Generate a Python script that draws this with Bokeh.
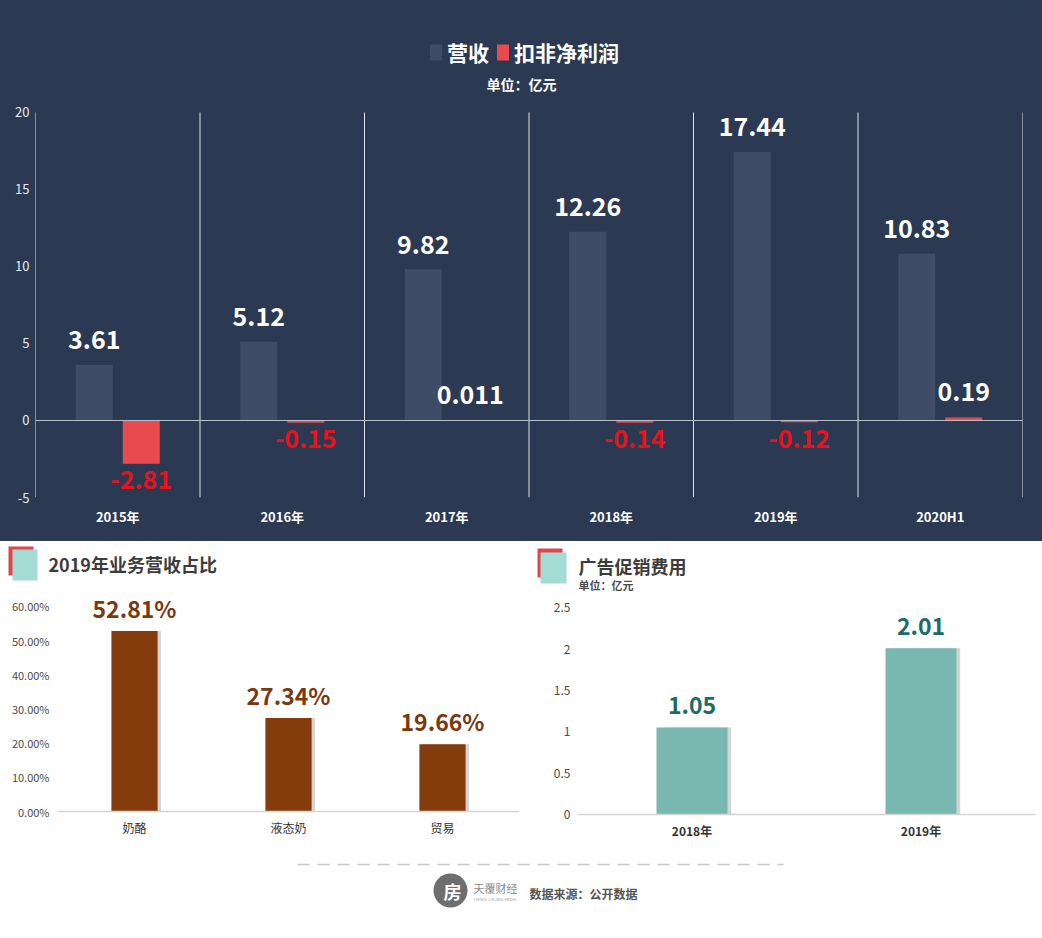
from bokeh.plotting import figure
from bokeh.models import (ColumnDataSource, FactorRange, Range1d, Legend, LegendItem, Label,
                          FixedTicker, Span, NumeralTickFormatter)
from bokeh.transform import dodge
from bokeh.layouts import row
from bokeh.embed import file_html
from bokeh.resources import INLINE
from bokeh.core.properties import value

# ---------------- data ----------------
years = ["2015年", "2016年", "2017年", "2018年", "2019年", "2020H1"]
revenue = [3.61, 5.12, 9.82, 12.26, 17.44, 10.83]
revenue_labels = ["3.61", "5.12", "9.82", "12.26", "17.44", "10.83"]
profit = [-2.81, -0.15, 0.011, -0.14, -0.12, 0.19]
profit_labels = ["-2.81", "-0.15", "0.011", "-0.14", "-0.12", "0.19"]
top_ticks = [-5, 0, 5, 10, 15, 20]
top_tick_labels = ["-5", "0", "5", "10", "15", "20"]

biz = ["奶酪", "液态奶", "贸易"]
biz_share = [0.5281, 0.2734, 0.1966]
biz_labels = ["52.81%", "27.34%", "19.66%"]
biz_ticks = [0, 0.1, 0.2, 0.3, 0.4, 0.5, 0.6]

ad_years = ["2018年", "2019年"]
ad_cost = [1.05, 2.01]
ad_labels = ["1.05", "2.01"]
ad_ticks = [0, 0.5, 1, 1.5, 2, 2.5]
ad_tick_labels = ["0", "0.5", "1", "1.5", "2", "2.5"]

FONT = "Noto Sans CJK SC"
BG = "#2b3a52"
REV_C = "#3f4c66"
PROF_C = "#e84a4f"
NEG_TXT = "#e8121c"
ICON_RED = "#e0474c"
ICON_TEAL = "#a3dcd5"
LINE_C = "#dfe3ea"


def blank(w, h):
    fig = figure(x_range=Range1d(0, w), y_range=Range1d(0, h), width=w, height=h,
                 x_axis_type=None, y_axis_type=None, output_backend="svg", toolbar_location=None,
                 outline_line_color=None, background_fill_color="white", border_fill_color="white",
                 min_border=0, min_border_left=0, min_border_right=0, min_border_top=0, min_border_bottom=0)
    fig.grid.visible = False
    return fig


def style_axis(ax, color, size, bold=False, standoff=6, line=None):
    ax.axis_line_color = line
    ax.major_tick_line_color = None
    ax.minor_tick_line_color = None
    ax.major_tick_out = 0
    ax.major_tick_in = 0
    ax.minor_tick_out = 0
    ax.minor_tick_in = 0
    ax.major_label_text_color = color
    ax.major_label_text_font = FONT
    ax.major_label_text_font_size = size
    ax.major_label_text_font_style = "bold" if bold else "normal"
    ax.major_label_standoff = standoff


# ---------------- top chart ----------------
p = figure(x_range=FactorRange(*years), y_range=Range1d(-5, 27.27), width=1042, height=541,
           output_backend="svg", toolbar_location=None, styles={"background-color": BG},
           background_fill_color=BG, border_fill_color=BG, outline_line_color=None,
           min_border_left=35, min_border_right=20, min_border_top=0, min_border_bottom=44)
p.xgrid.visible = False
p.ygrid.visible = False

src = ColumnDataSource(dict(year=years, rev=revenue, rl=revenue_labels, prof=profit, pl=profit_labels))
first_src = ColumnDataSource(dict(year=years[:1]))
neg_idx = [i for i, v in enumerate(profit) if v < 0]
pos_idx = [i for i, v in enumerate(profit) if v >= 0]
neg_src = ColumnDataSource(dict(year=[years[i] for i in neg_idx], prof=[profit[i] for i in neg_idx],
                                pl=[profit_labels[i] for i in neg_idx]))
pos_src = ColumnDataSource(dict(year=[years[i] for i in pos_idx], prof=[profit[i] for i in pos_idx],
                                pl=[profit_labels[i] for i in pos_idx]))

# category separators and left axis line
p.segment(x0=dodge("year", 0.5, range=p.x_range), y0=top_ticks[0], x1=dodge("year", 0.5, range=p.x_range),
          y1=top_ticks[-1], source=src, line_color=LINE_C, line_width=1)
p.segment(x0=dodge("year", -0.5, range=p.x_range), y0=top_ticks[0], x1=dodge("year", -0.5, range=p.x_range),
          y1=top_ticks[-1], source=first_src, line_color=LINE_C, line_width=1)
p.add_layout(Span(location=0, dimension="width", line_color="#b9c0cc", line_width=1))

r1 = p.vbar(x=dodge("year", -0.143, range=p.x_range), top="rev", bottom=0, width=0.225, source=src,
            fill_color=REV_C, line_color=None)
r2 = p.vbar(x=dodge("year", 0.143, range=p.x_range), top="prof", bottom=0, width=0.225, source=src,
            fill_color=PROF_C, line_color=None)

p.text(x=dodge("year", -0.143, range=p.x_range), y="rev", text="rl", source=src,
       text_align="center", text_baseline="alphabetic", y_offset=-25,
       text_font=value(FONT), text_font_size="25px", text_font_style="bold", text_color="white")
p.text(x=dodge("year", 0.143, range=p.x_range), y="prof", text="pl", source=neg_src,
       text_align="center", text_baseline="alphabetic", y_offset=16,
       text_font=value(FONT), text_font_size="25px", text_font_style="bold", text_color=NEG_TXT)
p.text(x=dodge("year", 0.143, range=p.x_range), y="prof", text="pl", source=pos_src,
       text_align="center", text_baseline="alphabetic", y_offset=-26,
       text_font=value(FONT), text_font_size="25px", text_font_style="bold", text_color="white")

p.yaxis.ticker = FixedTicker(ticks=top_ticks)
p.yaxis.major_label_overrides = dict(zip(top_ticks, top_tick_labels))
style_axis(p.yaxis[0], "#e6e9ef", "13px", standoff=6)
style_axis(p.xaxis[0], "white", "13px", bold=True, standoff=9)

legend = Legend(items=[LegendItem(label="营收", renderers=[r1]), LegendItem(label="扣非净利润", renderers=[r2])],
                orientation="horizontal", location=(393, 430),
                label_text_color="white", label_text_font=FONT, label_text_font_size="21px",
                label_text_font_style="bold", glyph_width=15, glyph_height=20, label_standoff=4,
                spacing=6, padding=0, margin=0, background_fill_alpha=0, border_line_alpha=0)
p.add_layout(legend, "center")
p.add_layout(Label(x=486, y=414, x_units="screen", y_units="screen", text="单位：亿元",
                   text_align="center", text_baseline="middle", text_color="white",
                   text_font=FONT, text_font_size="14px", text_font_style="bold"))

# ---------------- header row of the two lower charts ----------------
h2 = blank(521, 50)
h2.quad(left=[8], right=[33], top=[45], bottom=[16], fill_color=ICON_RED, line_color=None)
h2.quad(left=[12], right=[37], top=[42], bottom=[11], fill_color=ICON_TEAL, line_color=None)
h2.text(x=[48], y=[28], text=["2019年业务营收占比"], text_align="left", text_baseline="middle",
        text_font=value(FONT), text_font_size="18px", text_font_style="bold", text_color="#3c3c3c")
h3 = blank(521, 50)
h3.quad(left=[16], right=[41], top=[43], bottom=[14], fill_color=ICON_RED, line_color=None)
h3.quad(left=[19], right=[45], top=[39], bottom=[8], fill_color=ICON_TEAL, line_color=None)
h3.text(x=[57], y=[26], text=["广告促销费用"], text_align="left", text_baseline="middle",
        text_font=value(FONT), text_font_size="18px", text_font_style="bold", text_color="#3c3c3c")
h3.text(x=[57], y=[7], text=["单位：亿元"], text_align="left", text_baseline="middle",
        text_font=value(FONT), text_font_size="11px", text_font_style="bold", text_color="#4a4a4a")

# ---------------- bottom left ----------------
BROWN = "#843c0c"
p2 = figure(x_range=FactorRange(*biz), y_range=Range1d(-0.0087, 0.6435), width=521, height=250,
            output_backend="svg", toolbar_location=None, outline_line_color=None,
            background_fill_color="white", border_fill_color="white",
            min_border_left=57, min_border_right=2, min_border_top=0, min_border_bottom=25)
p2.xgrid.visible = False
p2.ygrid.visible = False
s2 = ColumnDataSource(dict(cat=biz, v=biz_share, l=biz_labels))
p2.add_layout(Span(location=0, dimension="width", line_color="#d4d4d4", line_width=1.5))
p2.vbar(x=dodge("cat", 0.022, range=p2.x_range), top="v", width=0.3, source=s2,
        fill_color="#c9c9c9", fill_alpha=0.8, line_color=None)
p2.vbar(x="cat", top="v", width=0.3, source=s2, fill_color=BROWN, line_color=None)
p2.text(x="cat", y="v", text="l", source=s2, text_align="center", text_baseline="alphabetic", y_offset=-23,
        text_font=value(FONT), text_font_size="23px", text_font_style="bold", text_color="#7a3810")
p2.yaxis.ticker = FixedTicker(ticks=biz_ticks)
p2.yaxis.formatter = NumeralTickFormatter(format="0.00%")
style_axis(p2.yaxis[0], "#4a4a4a", "11px", standoff=8)
style_axis(p2.xaxis[0], "#333333", "12px", standoff=4)

# ---------------- bottom right ----------------
TEAL = "#78b8b1"
p3 = figure(x_range=FactorRange(*ad_years), y_range=Range1d(0, 2.695), width=521, height=250,
            output_backend="svg", toolbar_location=None, outline_line_color=None,
            background_fill_color="white", border_fill_color="white",
            min_border_left=56, min_border_right=7, min_border_top=0, min_border_bottom=25)
p3.xgrid.visible = False
p3.ygrid.visible = False
s3 = ColumnDataSource(dict(cat=ad_years, v=ad_cost, l=ad_labels))
p3.vbar(x=dodge("cat", 0.016, range=p3.x_range), top="v", width=0.31, source=s3,
        fill_color="#c9c9c9", fill_alpha=0.8, line_color=None)
p3.vbar(x="cat", top="v", width=0.31, source=s3, fill_color=TEAL, line_color=None)
p3.text(x="cat", y="v", text="l", source=s3, text_align="center", text_baseline="alphabetic", y_offset=-22,
        text_font=value(FONT), text_font_size="23px", text_font_style="bold", text_color="#1d6b68")
p3.yaxis.ticker = FixedTicker(ticks=ad_ticks)
p3.yaxis.major_label_overrides = dict(zip(ad_ticks, ad_tick_labels))
style_axis(p3.yaxis[0], "#4a4a4a", "12px", standoff=7)
style_axis(p3.xaxis[0], "#333333", "12px", bold=True, standoff=7, line="#d4d4d4")
p3.xaxis.axis_line_width = 1.5

# ---------------- footer ----------------
f = blank(1042, 97)
f.segment(x0=[297], y0=[74], x1=[783], y1=[74], line_color="#c8c8c8", line_width=1.5, line_dash="12 8")
f.scatter(x=[450], y=[48], size=34, marker="circle", fill_color="#6e6e6e", line_color=None)
f.text(x=[452], y=[48], text=["房"], text_align="center", text_baseline="middle",
       text_font=value(FONT), text_font_size="18px", text_font_style="bold", text_color="white")
f.text(x=[473], y=[51], text=["天覆财经"], text_align="left", text_baseline="middle",
       text_font=value(FONT), text_font_size="11px", text_color="#8a8a8a")
f.text(x=[473], y=[40], text=["TIANFU CAIJING MEDIA"], text_align="left", text_baseline="middle",
       text_font=value(FONT), text_font_size="4px", text_color="#9a9a9a")
f.text(x=[529], y=[45], text=["数据来源：公开数据"], text_align="left", text_baseline="middle",
       text_font=value(FONT), text_font_size="12px", text_font_style="bold", text_color="#555555")

roots = [p, row(h2, h3, spacing=0), row(p2, p3, spacing=0), f]
open("out.html", "w").write(file_html(roots, INLINE))
